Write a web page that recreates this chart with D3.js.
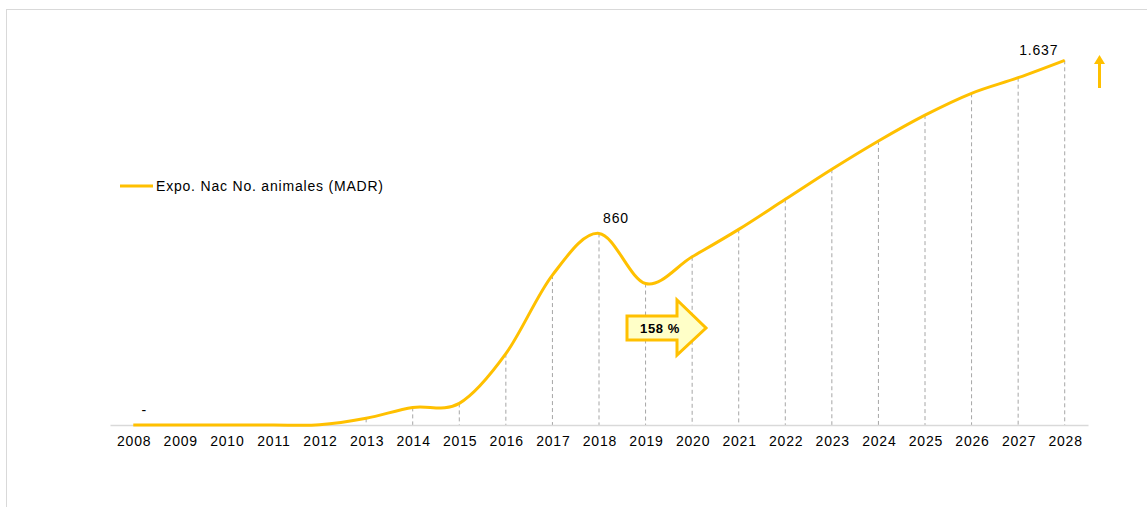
<!DOCTYPE html>
<html>
<script src='https://d3js.org/d3.v7.min.js'></script>
<style>
body {margin:0; background:#fff;}
text {font-family: 'Liberation Sans', Arial, sans-serif; fill:#000;}
</style>
<body onload='init()'>
<svg width=1147 height=507></svg>
<script>
var years = ['2008','2009','2010','2011','2012','2013','2014','2015','2016','2017','2018',
             '2019','2020','2021','2022','2023','2024','2025','2026','2027','2028'];
var expo = [0,0,0,0,1,30,79,97,320,673,860,635,755,878,1013,1148,1275,1391,1489,1559,1637];
var seriesName = 'Expo. Nac No. animales (MADR)';
var labelled = [
  {year:'2008', text:'-', dx:11, dy:-10},
  {year:'2018', text:'860', dx:17, dy:-10},
  {year:'2028', text:'1.637', dx:-26, dy:-5}
];
var growthText = '158 %';

function init() {
  var svg = d3.select('svg');
  var gold = '#FFC000';
  var font = "'Liberation Sans', Arial, sans-serif";

  // frame
  svg.append('rect').attr('x',6.5).attr('y',9.5).attr('width',1200).attr('height',600)
    .attr('fill','none').attr('stroke','#d9d9d9');

  var xs = d3.scalePoint().domain(years).range([110,1088]).padding(0.5);
  var ys = d3.scaleLinear().domain([0,1800]).range([425,24]);

  // drop lines
  svg.append('g').selectAll('line').data(years).enter().append('line')
    .attr('x1', function(d){return xs(d);}).attr('x2', function(d){return xs(d);})
    .attr('y1', function(d,i){return ys(expo[i]);}).attr('y2', ys(0))
    .attr('stroke','#a6a6a6').attr('stroke-width',1).attr('stroke-dasharray','4,3');

  // x axis
  var ax = svg.append('g').attr('transform','translate(0,'+ys(0)+')')
    .call(d3.axisBottom(xs).tickSize(0).tickPadding(11));
  ax.select('.domain').attr('stroke','#d9d9d9').attr('stroke-width',1.5);
  ax.selectAll('text').attr('font-size',14).attr('font-family',font).attr('fill','#000')
    .attr('letter-spacing','0.8px').attr('dx','0.4px');

  // line
  var line = d3.line()
    .x(function(d,i){return xs(years[i]);})
    .y(function(d){return ys(d);})
    .curve(d3.curveCatmullRom.alpha(0));
  svg.append('path').datum(expo).attr('d', line)
    .attr('fill','none').attr('stroke',gold).attr('stroke-width',3);

  // value labels
  svg.append('g').selectAll('text').data(labelled).enter().append('text')
    .attr('x', function(d){return xs(d.year)+d.dx;})
    .attr('y', function(d){return ys(expo[years.indexOf(d.year)])+d.dy;})
    .attr('text-anchor','middle').attr('font-size',14).attr('letter-spacing','0.8px')
    .text(function(d){return d.text;});

  // legend
  svg.append('line').attr('x1',120).attr('x2',153).attr('y1',186).attr('y2',186)
    .attr('stroke',gold).attr('stroke-width',3);
  svg.append('text').attr('x',156).attr('y',191).attr('font-size',14)
    .attr('letter-spacing','0.8px').text(seriesName);

  // growth arrow
  var ax0 = 627, ay = 328;
  var arrowPts = [[ax0,ay-12],[ax0+50,ay-12],[ax0+50,ay-28],[ax0+79,ay],[ax0+50,ay+27],[ax0+50,ay+12],[ax0,ay+12]];
  svg.append('path').attr('d', d3.line()(arrowPts)+'Z')
    .attr('fill','#FFFFC8').attr('stroke',gold).attr('stroke-width',3).attr('stroke-linejoin','miter');
  svg.append('text').attr('x',ax0+33).attr('y',ay+5).attr('text-anchor','middle')
    .attr('font-size',13).attr('font-weight','bold').attr('letter-spacing','0.6px').text(growthText);

  // up arrow
  svg.append('line').attr('x1',1099.5).attr('x2',1099.5).attr('y1',88).attr('y2',63)
    .attr('stroke',gold).attr('stroke-width',3);
  svg.append('path').attr('d', d3.line()([[1094,64],[1099.5,55],[1105,64]])+'Z').attr('fill',gold);
}
</script>
</body>
</html>
